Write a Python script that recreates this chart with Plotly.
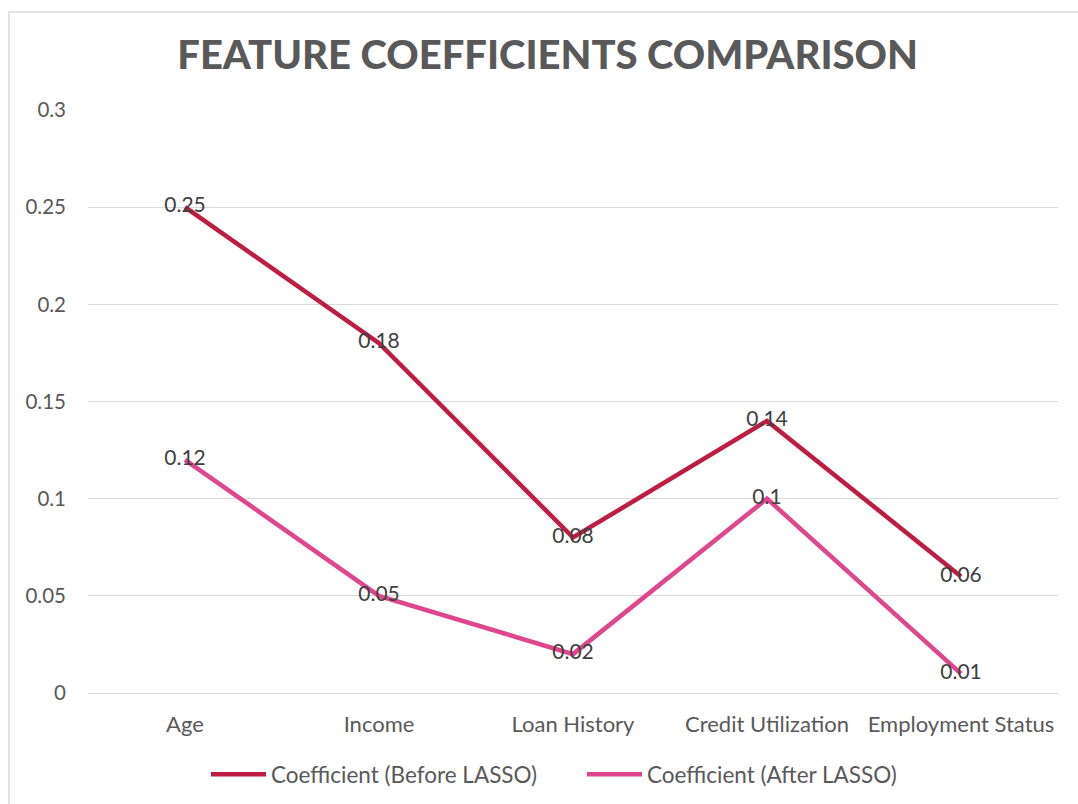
import plotly.graph_objects as go

categories = ["Age", "Income", "Loan History", "Credit Utilization", "Employment Status"]
before_lasso = [0.25, 0.18, 0.08, 0.14, 0.06]
after_lasso = [0.12, 0.05, 0.02, 0.10, 0.01]
before_labels = ["0.25", "0.18", "0.08", "0.14", "0.06"]
after_labels = ["0.12", "0.05", "0.02", "0.1", "0.01"]
y_ticks = [0, 0.05, 0.1, 0.15, 0.2, 0.25, 0.3]
y_tick_text = ["0", "0.05", "0.1", "0.15", "0.2", "0.25", "0.3"]

FONT = "Lato, 'Open Sans', sans-serif"
GREY = "#595959"

fig = go.Figure()
fig.add_trace(go.Scatter(
    x=categories, y=before_lasso, mode="lines+text", name="Coefficient (Before LASSO)",
    line=dict(color="#BE1C43", width=4.5), text=before_labels, textposition="middle center",
    textfont=dict(family=FONT, size=21, color="#404040"), cliponaxis=False))
fig.add_trace(go.Scatter(
    x=categories, y=after_lasso, mode="lines+text", name="Coefficient (After LASSO)",
    line=dict(color="#E0468D", width=4.5), text=after_labels, textposition="middle center",
    textfont=dict(family=FONT, size=21, color="#404040"), cliponaxis=False))

fig.update_layout(
    width=1078, height=804,
    margin=dict(l=88, r=20, t=110, b=111, autoexpand=False),
    paper_bgcolor="white", plot_bgcolor="white",
    font=dict(family=FONT, size=19, color=GREY),
    title=dict(text="FEATURE COEFFICIENTS COMPARISON", x=0.508, xanchor="center",
               y=1 - 55 / 804, yanchor="middle", yref="container",
               font=dict(family=FONT, size=40, color=GREY, weight=900)),
    showlegend=True,
    legend=dict(orientation="h", x=(582 - 88) / 970, xanchor="center", y=-0.14, yanchor="middle",
                font=dict(family=FONT, size=22.5, color=GREY), itemwidth=55,
                entrywidth=306, bgcolor="rgba(0,0,0,0)"),
    xaxis=dict(range=[-0.5, 4.5], automargin=False, showgrid=False, showline=False,
               zeroline=False, ticks="", ticklabelstandoff=16,
               tickfont=dict(family=FONT, size=22, color=GREY)),
    yaxis=dict(range=[0, 0.3], automargin=False, tickvals=y_ticks, ticktext=y_tick_text,
               showgrid=True, gridcolor="#D9D9D9", gridwidth=1.2, zeroline=True,
               zerolinecolor="#D9D9D9", zerolinewidth=1.2, showline=False, ticks="",
               ticklabelstandoff=21, tickfont=dict(family=FONT, size=20.5, color=GREY)),
    shapes=[dict(type="rect", xref="paper", yref="paper",
                 x0=(9 - 88) / 970, x1=(1300 - 88) / 970,
                 y0=(693 - 1000) / 583, y1=(693 - 12) / 583,
                 line=dict(color="#D9D9D9", width=1.5), fillcolor="rgba(0,0,0,0)", layer="below")],
)

fig.write_html("out.html")
